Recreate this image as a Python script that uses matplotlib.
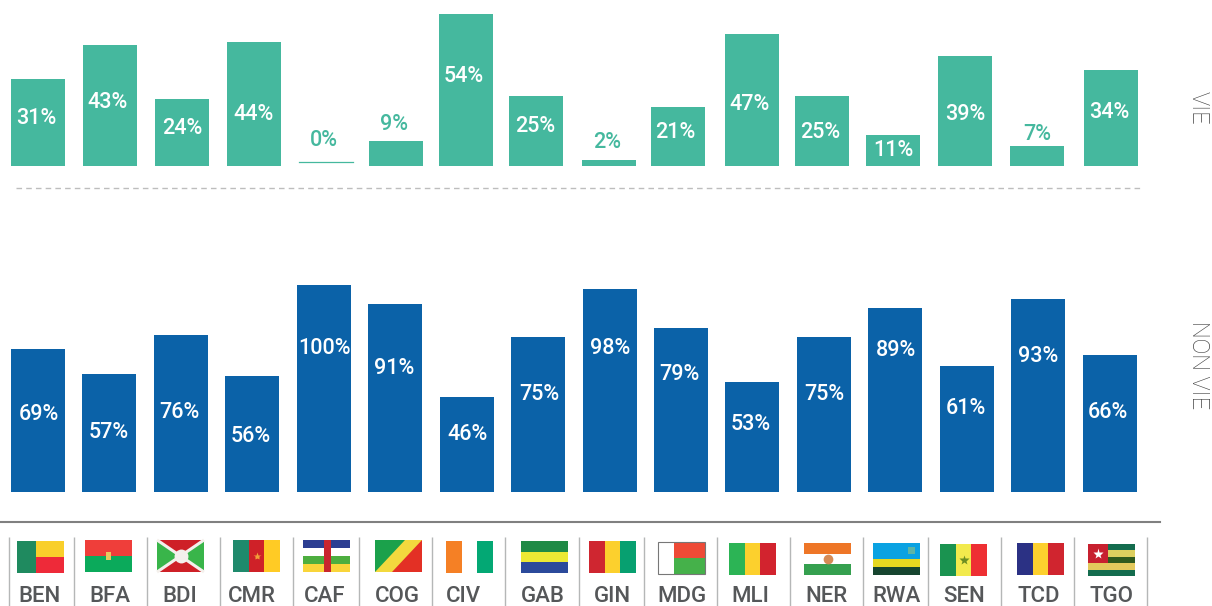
import matplotlib
matplotlib.use("Agg")
import matplotlib.pyplot as plt
from matplotlib.patches import Rectangle, Polygon

plt.rcParams["font.family"] = ["Roboto", "DejaVu Sans"]

W, H = 1212, 606
TEAL = "#45B89E"
BLUE = "#0B62A8"
GREY = "#555759"

# data
codes = ["BEN", "BFA", "BDI", "CMR", "CAF", "COG", "CIV", "GAB",
         "GIN", "MDG", "MLI", "NER", "RWA", "SEN", "TCD", "TGO"]
vie = [31, 43, 24, 44, 0, 9, 54, 25, 2, 21, 47, 25, 11, 39, 7, 34]
non_vie = [69, 57, 76, 56, 100, 91, 46, 75, 98, 79, 53, 75, 89, 61, 93, 66]

# layout, pixels
top_left = [11, 83, 155, 227, 299, 369, 439, 509, 582, 651, 725, 795, 866, 938, 1010, 1084]
bot_left = [11, 82, 154, 225, 297, 368, 440, 511, 583, 654, 725, 797, 868, 940, 1011, 1083]
top_label_x = [36, 108, 182, 254, 324, 394, 464, 535, 607, 675, 750, 820, 893, 965, 1037, 1109]
bot_label_x = [39, 109, 179, 251, 324, 394, 467, 539, 610, 679, 751, 824, 896, 966, 1038, 1108]
top_label_y = [119, 103, 129, 115, 140, 124, 76, 126, 142, 133, 104, 132, 150, 115, 134, 112]
bot_label_y = [415, 432, 413, 436, 349, 369, 434, 395, 349, 374, 424, 395, 350, 408, 356, 412]
code_x = [40, 110, 180, 252, 325, 397, 463, 543, 612, 682, 750, 826, 896, 964, 1039, 1112]
separators = [9, 74, 147, 220, 293, 359, 432, 505, 579, 644, 717, 790, 863, 928, 1001, 1074, 1147]
flag_box = [(17, 541), (85, 540), (157, 540), (233, 540), (303, 540), (375, 540), (446, 541), (521, 541),
            (589, 541), (658, 542), (729, 543), (804, 543), (873, 543), (940, 544), (1017, 543), (1088, 544)]
BAR_W = 54
FLAG_W, FLAG_H = 47, 32

fig = plt.figure(figsize=(W / 100, H / 100), dpi=100)

# overlay in pixel coordinates, for everything that is not a bar
ov = fig.add_axes([0, 0, 1, 1], zorder=3)
ov.set_xlim(0, W)
ov.set_ylim(H, 0)
ov.axis("off")


def bar_axes(base_y, px_per_pct):
    ax = fig.add_axes([0, 1 - base_y / H, 1, (base_y - 1) / H], zorder=1)
    ax.set_xlim(0, W)
    ax.set_ylim(0, (base_y - 1) / px_per_pct)
    ax.axis("off")
    return ax


ax_top = bar_axes(166, 2.81)
ax_bot = bar_axes(492, 2.07)
ax_top.bar(top_left, vie, width=BAR_W, align="edge", color=TEAL)
ax_bot.bar(bot_left, non_vie, width=BAR_W, align="edge", color=BLUE)
ov.plot([299, 353], [162, 162], color=TEAL, lw=0.9)

for x, v, y in zip(top_label_x, vie, top_label_y):
    c = TEAL if v in (0, 2, 7, 9) else "white"
    ov.text(x, y, f"{v}%", color=c, fontsize=15.5, fontweight="medium", ha="center", va="center")
for x, v, y in zip(bot_label_x, non_vie, bot_label_y):
    ov.text(x, y, f"{v}%", color="white", fontsize=15.5, fontweight="medium", ha="center", va="center")

ov.plot([16, 1140], [187.5, 187.5], color="#BDBDBD", lw=1, dashes=(4, 3))
ov.plot([0, 1160], [522, 522], color="#808080", lw=1.5)
ov.vlines(separators, 537, 606, color="#B5B7B7", lw=1)

ov.text(1198, 108, "VIE", rotation=270, color="#444444", fontsize=17, fontweight="light", ha="center", va="center")
ov.text(1198, 365, "NON VIE", rotation=270, color="#444444", fontsize=17, fontweight="light", ha="center", va="center")

for x, code in zip(code_x, codes):
    ov.text(x, 596, code, color=GREY, fontsize=16, fontweight="medium", ha="center", va="center")


def rect(x, y, w, h, c, z=2):
    ov.add_patch(Rectangle((x, y), w, h, fc=c, ec="none", zorder=z))


def poly(pts, c, z=3):
    ov.add_patch(Polygon(pts, closed=True, fc=c, ec="none", zorder=z))


def vstripes(x, y, cols):
    w = FLAG_W / len(cols)
    for i, c in enumerate(cols):
        rect(x + i * w, y, w, FLAG_H, c)


def hstripes(x, y, cols):
    h = FLAG_H / len(cols)
    for i, c in enumerate(cols):
        rect(x, y + i * h, FLAG_W, h, c)


def draw_flag(code, x, y):
    w, h = FLAG_W, FLAG_H
    if code == "BEN":
        rect(x, y, w, h / 2, "#F9CF2B")
        rect(x, y + h / 2, w, h / 2, "#EE2A39")
        rect(x, y, 19, h, "#1F8A5F", 3)
    elif code == "BFA":
        hstripes(x, y, ["#EF3E3A", "#0BAA5B"])
        rect(x + 21, y + 12, 5, 8, "#E9C75F", 3)
    elif code == "BDI":
        rect(x, y, w, h, "#39B54A")
        poly([(x, y), (x + w, y), (x + w / 2, y + h / 2)], "#CE2027")
        poly([(x, y + h), (x + w, y + h), (x + w / 2, y + h / 2)], "#CE2027")
        ov.plot([x, x + w], [y, y + h], color="#F4F0EC", lw=2.2, zorder=4, solid_capstyle="butt")
        ov.plot([x, x + w], [y + h, y], color="#F4F0EC", lw=2.2, zorder=4, solid_capstyle="butt")
        ov.plot(x + w / 2, y + h / 2, "o", ms=10, color="#F4F0EC", mec="none", zorder=5)
    elif code == "CMR":
        vstripes(x, y, ["#1F8A6C", "#CF2128", "#FFCB25"])
        ov.plot(x + w / 2, y + h / 2, "*", ms=6, color="#F2A03A", mec="none", zorder=4)
    elif code == "CAF":
        hstripes(x, y, ["#2C3E92", "#FFFFFF", "#4DAE3F", "#F9D53A"])
        rect(x + w / 2 - 3, y, 7, h, "#C8262E", 3)
    elif code == "COG":
        rect(x, y, w, h, "#F3D93E")
        poly([(x, y), (x + 30, y), (x, y + h)], "#1BA14B")
        poly([(x + w, y + h), (x + 17, y + h), (x + w, y)], "#E33025")
    elif code == "CIV":
        vstripes(x, y, ["#F58025", "#FFFFFF", "#03A874"])
    elif code == "GAB":
        hstripes(x, y, ["#1F8A46", "#ECE934", "#2B4A9B"])
    elif code == "GIN":
        vstripes(x, y, ["#CF2630", "#FCD02D", "#07A070"])
    elif code == "MDG":
        rect(x, y, 16, h, "#FFFFFF")
        rect(x + 16, y, w - 16, h / 2, "#EE4A36")
        rect(x + 16, y + h / 2, w - 16, h / 2, "#45B14A")
        ov.add_patch(Rectangle((x, y), w, h, fc="none", ec="#777777", lw=0.8, zorder=4))
    elif code == "MLI":
        vstripes(x, y, ["#2CB455", "#FCD02D", "#D2232E"])
    elif code == "NER":
        hstripes(x, y, ["#EE7627", "#FFFFFF", "#35A04F"])
        ov.plot(x + w / 2 + 0.5, y + h / 2, "o", ms=7, color="#D68A55", mec="none", zorder=4)
    elif code == "RWA":
        rect(x, y, w, h / 2, "#0AA2E2")
        rect(x, y + h / 2, w, h / 4, "#E6D820")
        rect(x, y + 3 * h / 4, w, h / 4, "#16452F")
        rect(x + 35, y + 4, 7, 7, "#5CB5A6", 3)
    elif code == "SEN":
        vstripes(x, y, ["#1A9350", "#F2EA4D", "#EE2F33"])
        ov.plot(x + w / 2 + 0.5, y + h / 2, "*", ms=7, color="#6C8E22", mec="none", zorder=4)
    elif code == "TCD":
        vstripes(x, y, ["#2B3184", "#FDD02E", "#D0252F"])
    elif code == "TGO":
        hstripes(x, y, ["#146C4E", "#DCCF5F", "#2F5A1E", "#E3C95C", "#146C4E"])
        rect(x, y, 20, 19, "#C7202F", 3)
        ov.plot(x + 10, y + 9.5, "*", ms=8, color="white", mec="none", zorder=4)


for code, (x, y) in zip(codes, flag_box):
    draw_flag(code, x, y)

plt.savefig("out.png", dpi=100)
plt.close()
